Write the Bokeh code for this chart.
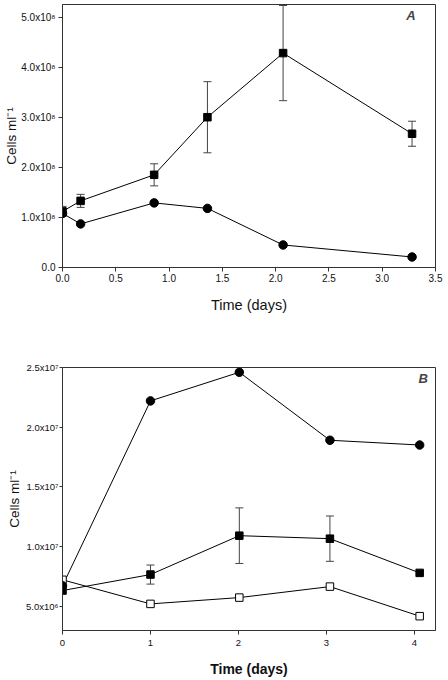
from bokeh.plotting import figure
from bokeh.layouts import column
from bokeh.models import Range1d, FixedTicker, Whisker, ColumnDataSource, Label, TeeHead, PrintfTickFormatter
from bokeh.embed import file_html
from bokeh.resources import INLINE

# ---------------- Panel A data ----------------
a_time = [0.0, 0.17, 0.86, 1.36, 2.07, 3.28]
a_squares = [1.12e8, 1.33e8, 1.85e8, 3.00e8, 4.28e8, 2.67e8]
a_squares_err = [0.10e8, 0.13e8, 0.22e8, 0.71e8, 0.95e8, 0.25e8]
a_circles = [1.08e8, 0.87e8, 1.29e8, 1.18e8, 0.45e8, 0.21e8]
a_xticks = [0.0, 0.5, 1.0, 1.5, 2.0, 2.5, 3.0, 3.5]
a_yticks = [0, 1e8, 2e8, 3e8, 4e8, 5e8]
a_ytick_labels = ["0.0", "1.0x10\u2078", "2.0x10\u2078", "3.0x10\u2078", "4.0x10\u2078", "5.0x10\u2078"]

# ---------------- Panel B data ----------------
b_time = [0.0, 1.0, 2.01, 3.04, 4.06]
b_circles = [0.67e7, 2.22e7, 2.46e7, 1.89e7, 1.85e7]
b_filled_sq = [0.63e7, 0.764e7, 1.09e7, 1.065e7, 0.778e7]
b_filled_sq_err = [0.0, 0.08e7, 0.233e7, 0.19e7, 0.0]
b_open_sq = [0.72e7, 0.518e7, 0.571e7, 0.663e7, 0.415e7]
b_xticks = [0, 1, 2, 3, 4]
b_yticks = [5e6, 1e7, 1.5e7, 2e7, 2.5e7]
b_ytick_labels = ["5.0x10\u2076", "1.0x10\u2077", "1.5x10\u2077", "2.0x10\u2077", "2.5x10\u2077"]

FONT = "Liberation Sans"
AX = "#333333"


def style_axes(p, xtick_font, ytick_font, xlab_font, xlab_style, ylab_font, ylab_style,
               xstand, xlabstand, ytick_out, ystand, ylabstand):
    p.xgrid.visible = False
    p.ygrid.visible = False
    p.outline_line_color = AX
    p.outline_line_width = 1
    p.background_fill_color = "white"
    p.border_fill_color = "white"
    for ax in (p.xaxis[0], p.yaxis[0]):
        ax.axis_line_color = AX
        ax.major_tick_line_color = AX
        ax.major_tick_out = 4
        ax.major_tick_in = 0
        ax.minor_tick_line_color = None
        ax.major_label_text_font = FONT
        ax.major_label_text_color = "#111111"
        ax.axis_label_text_font = FONT
        ax.axis_label_text_color = "#111111"
    p.yaxis[0].major_tick_out = ytick_out
    p.xaxis[0].major_label_text_font_size = xtick_font
    p.yaxis[0].major_label_text_font_size = ytick_font
    p.xaxis[0].axis_label_text_font_size = xlab_font
    p.xaxis[0].axis_label_text_font_style = xlab_style
    p.yaxis[0].axis_label_text_font_size = ylab_font
    p.yaxis[0].axis_label_text_font_style = ylab_style
    p.xaxis[0].major_label_standoff = xstand
    p.xaxis[0].axis_label_standoff = xlabstand
    p.yaxis[0].major_label_standoff = ystand
    p.yaxis[0].axis_label_standoff = ylabstand


# ---------------- Panel A ----------------
pa = figure(width=448, height=338, output_backend="svg", toolbar_location=None,
            x_range=Range1d(0, 3.5), y_range=Range1d(0, 5.25e8),
            min_border_left=59, min_border_right=13, min_border_top=4, min_border_bottom=71,
            x_axis_label="Time (days)", y_axis_label="Cells ml\u207b\u00b9")
style_axes(pa, "10px", "10px", "14.5px", "normal", "13.5px", "normal", 2, 12, 4, 3, -1)
pa.xaxis[0].ticker = FixedTicker(ticks=a_xticks)
pa.xaxis[0].formatter = PrintfTickFormatter(format="%.1f")
pa.yaxis[0].ticker = FixedTicker(ticks=a_yticks)
pa.yaxis[0].major_label_overrides = {t: lab for t, lab in zip(a_yticks, a_ytick_labels)}

src_a_err = ColumnDataSource(dict(
    x=a_time,
    upper=[v + e for v, e in zip(a_squares, a_squares_err)],
    lower=[v - e for v, e in zip(a_squares, a_squares_err)],
))
pa.add_layout(Whisker(base="x", upper="upper", lower="lower", source=src_a_err,
                      line_color="#444444", line_width=1,
                      upper_head=TeeHead(size=8, line_color="#444444", line_width=1),
                      lower_head=TeeHead(size=8, line_color="#444444", line_width=1)))
pa.line(a_time, a_circles, line_color="black", line_width=1)
pa.line(a_time, a_squares, line_color="black", line_width=1)
pa.scatter(a_time, a_circles, marker="circle", size=8.5, fill_color="black", line_color="black")
pa.scatter(a_time, a_squares, marker="square", size=7.5, fill_color="black", line_color="black")
pa.add_layout(Label(x=3.27, y=5.03e8, text="A", text_font=FONT, text_font_style="bold italic",
                    text_font_size="13px", text_align="center", text_baseline="middle"))

# ---------------- Panel B ----------------
pb = figure(width=448, height=342, output_backend="svg", toolbar_location=None,
            x_range=Range1d(0, 4.24), y_range=Range1d(2.95e6, 2.5e7),
            min_border_left=62, min_border_right=5, min_border_top=29, min_border_bottom=50,
            x_axis_label="Time (days)", y_axis_label="Cells ml\u207b\u00b9")
style_axes(pb, "9.5px", "9.5px", "14px", "bold", "13.5px", "normal", 5, 12, 3, 1, 1)
pb.xaxis[0].ticker = FixedTicker(ticks=b_xticks)
pb.yaxis[0].ticker = FixedTicker(ticks=b_yticks)
pb.yaxis[0].major_label_overrides = {t: lab for t, lab in zip(b_yticks, b_ytick_labels)}

b_err_x = [t for t, e in zip(b_time, b_filled_sq_err) if e > 0]
b_err_v = [v for v, e in zip(b_filled_sq, b_filled_sq_err) if e > 0]
b_err_e = [e for e in b_filled_sq_err if e > 0]
src_b_err = ColumnDataSource(dict(
    x=b_err_x,
    upper=[v + e for v, e in zip(b_err_v, b_err_e)],
    lower=[v - e for v, e in zip(b_err_v, b_err_e)],
))
pb.add_layout(Whisker(base="x", upper="upper", lower="lower", source=src_b_err,
                      line_color="#444444", line_width=1,
                      upper_head=TeeHead(size=8, line_color="#444444", line_width=1),
                      lower_head=TeeHead(size=8, line_color="#444444", line_width=1)))
pb.line(b_time, b_circles, line_color="black", line_width=1)
pb.line(b_time, b_filled_sq, line_color="black", line_width=1)
pb.line(b_time, b_open_sq, line_color="black", line_width=1)
pb.scatter(b_time, b_open_sq, marker="square", size=7.5, fill_color="white", line_color="black")
pb.scatter(b_time, b_filled_sq, marker="square", size=7.5, fill_color="black", line_color="black")
pb.scatter(b_time, b_circles, marker="circle", size=8.5, fill_color="black", line_color="black")
pb.add_layout(Label(x=4.1, y=2.41e7, text="B", text_font=FONT, text_font_style="bold italic",
                    text_font_size="13px", text_align="center", text_baseline="middle"))

layout = column(pa, pb, spacing=0)
open("out.html", "w").write(file_html(layout, INLINE))
